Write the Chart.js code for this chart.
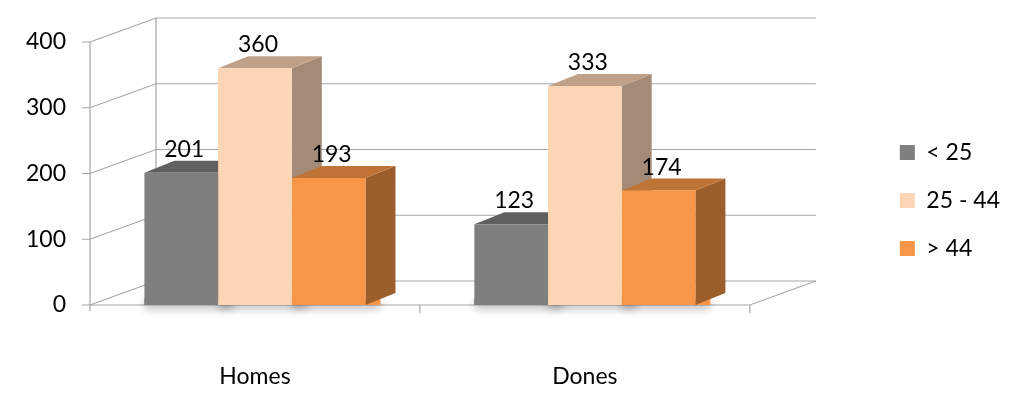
<!DOCTYPE html>
<html><head><meta charset="utf-8">
<script src="https://cdn.jsdelivr.net/npm/chart.js@4.4.1/dist/chart.umd.min.js"></script>
<style>html,body{margin:0;padding:0;background:#fff}</style>
</head><body>
<canvas id="c" width="1010" height="411" style="width:1010px;height:411px;display:block"></canvas>
<script>
// ---- data ----
const categories = ['Homes', 'Dones'];
const seriesNames = ['< 25', '25 - 44', '> 44'];
const under25 = [201, 123];
const age25to44 = [360, 333];
const over44 = [193, 174];
const yTickValues = [0, 100, 200, 300, 400];

// ---- style ----
const frontColors = ['#7f7f7f', '#fcd5b5', '#f79646'];
const topColors = ['#606060', '#c0a188', '#bf7335'];
const sideColors = ['#585858', '#a48b77', '#9c5e2b'];
const BAR_D = {dx: 30, dy: 12};
const WALL_D = {dx: 66, dy: 24};
const FONT = 'Lato, "Open Sans", sans-serif';
const FS = 23;

const threeD = {
  id: 'threeD',
  beforeDatasetsDraw(chart) {
    const ctx = chart.ctx;
    const a = chart.chartArea;
    const ys = chart.scales.y;
    ctx.save();
    ctx.strokeStyle = '#a6a6a6';
    ctx.lineWidth = 1.2;
    yTickValues.forEach(v => {
      const y = ys.getPixelForValue(v);
      ctx.beginPath();
      ctx.moveTo(a.left - 8, y);
      ctx.lineTo(a.left, y);
      ctx.lineTo(a.left + WALL_D.dx, y - WALL_D.dy);
      ctx.lineTo(a.right + WALL_D.dx, y - WALL_D.dy);
      ctx.stroke();
    });
    const yTop = ys.getPixelForValue(yTickValues[yTickValues.length - 1]);
    const yBot = ys.getPixelForValue(0);
    ctx.beginPath();
    ctx.moveTo(a.left, yTop); ctx.lineTo(a.left, yBot + 6);
    ctx.moveTo(a.left + WALL_D.dx, yTop - WALL_D.dy); ctx.lineTo(a.left + WALL_D.dx, yBot - WALL_D.dy);
    ctx.moveTo(a.left, yBot); ctx.lineTo(a.right, yBot);
    ctx.lineTo(a.right + WALL_D.dx, yBot - WALL_D.dy);
    const xs = chart.scales.x;
    const mid = (xs.getPixelForValue(0) + xs.getPixelForValue(1)) / 2;
    [mid, a.right].forEach(x => { ctx.moveTo(x, yBot); ctx.lineTo(x, yBot + 8); });
    ctx.stroke();

    const n = categories.length;
    for (let i = 0; i < n; i++) {
      chart.data.datasets.forEach((ds, di) => {
        const bar = chart.getDatasetMeta(di).data[i];
        const l = bar.x - bar.width / 2, r = bar.x + bar.width / 2;
        const t = bar.y, b = bar.base;
        ctx.save();
        ctx.shadowColor = 'rgba(0,0,0,0.35)';
        ctx.shadowBlur = 8;
        ctx.shadowOffsetY = 3;
        ctx.fillStyle = frontColors[di];
        ctx.fillRect(l, b - 6, r - l + BAR_D.dx * 0.5, 6);
        ctx.restore();
        ctx.fillStyle = sideColors[di];
        ctx.beginPath();
        ctx.moveTo(r, t); ctx.lineTo(r + BAR_D.dx, t - BAR_D.dy);
        ctx.lineTo(r + BAR_D.dx, b - BAR_D.dy); ctx.lineTo(r, b);
        ctx.closePath(); ctx.fill();
        ctx.fillStyle = topColors[di];
        ctx.beginPath();
        ctx.moveTo(l, t); ctx.lineTo(l + BAR_D.dx, t - BAR_D.dy);
        ctx.lineTo(r + BAR_D.dx, t - BAR_D.dy); ctx.lineTo(r, t);
        ctx.closePath(); ctx.fill();
      });
    }
    ctx.restore();
  },
  afterDatasetsDraw(chart) {
    const ctx = chart.ctx;
    ctx.save();
    ctx.fillStyle = '#000';
    ctx.font = FS + 'px ' + FONT;
    ctx.textAlign = 'center';
    ctx.textBaseline = 'bottom';
    chart.data.datasets.forEach((ds, di) => {
      chart.getDatasetMeta(di).data.forEach((bar, i) => {
        ctx.fillText(String(ds.data[i]), bar.x + BAR_D.dx * 0.1, bar.y - BAR_D.dy);
      });
    });
    ctx.restore();
  }
};

new Chart(document.getElementById('c'), {
  type: 'bar',
  data: {
    labels: categories,
    datasets: [
      {label: seriesNames[0], data: under25, backgroundColor: frontColors[0]},
      {label: seriesNames[1], data: age25to44, backgroundColor: frontColors[1]},
      {label: seriesNames[2], data: over44, backgroundColor: frontColors[2]}
    ]
  },
  options: {
    responsive: false,
    animation: false,
    devicePixelRatio: 1,
    layout: {padding: {top: 0, right: 0, left: 0, bottom: 10}},
    datasets: {bar: {categoryPercentage: 0.67, barPercentage: 1, borderWidth: 0}},
    plugins: {
      legend: {
        position: 'right',
        labels: {
          boxWidth: 15, boxHeight: 15, padding: 25, color: '#000',
          font: {size: FS, family: FONT}
        }
      },
      tooltip: {enabled: false}
    },
    scales: {
      x: {
        grid: {display: false}, border: {display: false},
        ticks: {color: '#000', font: {size: FS, family: FONT}, padding: 50},
        afterFit(s) { s.height = 96; }
      },
      x2: {
        position: 'top', display: true, type: 'category', labels: categories,
        grid: {display: false}, border: {display: false},
        ticks: {display: false},
        afterFit(s) { s.height = 42; }
      },
      y: {
        min: 0, max: 400,
        grid: {display: false}, border: {display: false},
        ticks: {stepSize: 100, color: '#000', font: {size: FS, family: FONT}, padding: 16},
        afterFit(s) { s.width = 90; }
      },
      y2: {
        position: 'right', display: true, min: 0, max: 1,
        grid: {display: false}, border: {display: false},
        ticks: {display: false},
        afterFit(s) { s.width = 125; }
      }
    }
  },
  plugins: [threeD]
});
</script>
</body></html>
